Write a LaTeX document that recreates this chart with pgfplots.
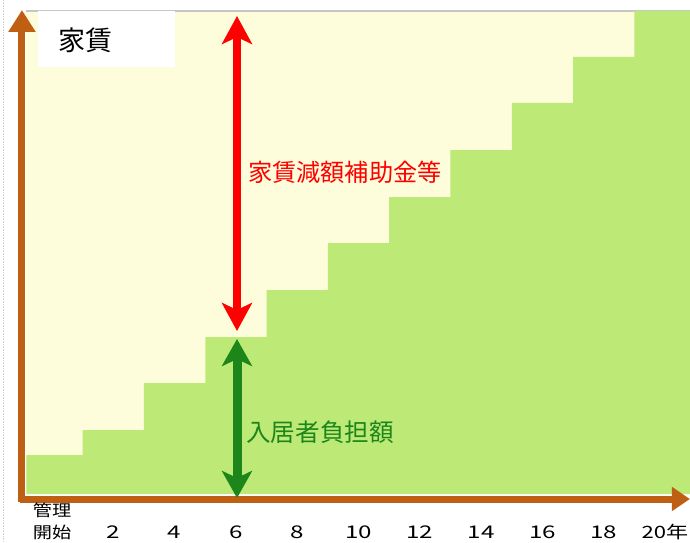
\documentclass[border=0pt]{standalone}
\usepackage{pgfplots}
\pgfplotsset{compat=1.18}
\usepackage{fontspec}
\setmainfont{Noto Sans CJK JP}
\usetikzlibrary{arrows.meta}
\definecolor{cream}{HTML}{FEFDDB}
\definecolor{lgreen}{HTML}{BDE977}
\definecolor{dgreen}{HTML}{1C861A}
\definecolor{brown}{HTML}{BF5F14}
\tikzset{num/.style={inner sep=0, xscale=1.38, font=\fontsize{17.5}{19}\selectfont}}
\begin{document}
\begin{tikzpicture}
\begin{axis}[scale only axis, width=690pt, height=542pt,
  xmin=-1.6966, xmax=20.8157, ymin=-45, ymax=497,
  axis lines=none, ticks=none, clip=false]
\coordinate (bl) at (rel axis cs:0,0);
\coordinate (tr) at (rel axis cs:1,1);
% background
\fill[cream] (axis cs:-0.84,3) rectangle (axis cs:20.82,486);
\draw[gray!45, line width=1.5pt] (axis cs:-0.84,486) -- (axis cs:20.82,486);
\draw[gray!35, densely dotted, line width=0.6pt] (axis cs:-1.6,497) -- (axis cs:-1.6,-45);
% tenant share (steps)
\addplot[const plot, fill=lgreen, draw=none] coordinates {
  (-0.84,3) (-0.84,42) (1,67) (3,114) (5,160) (7,207) (9,254)
  (11,300) (13,347) (15,394) (17,440) (19,486) (20.82,486) (20.82,3)} -- cycle;
% title box
\fill[white] (axis cs:-0.46,486) rectangle (axis cs:4.01,430);
\node[font=\fontsize{27}{30}\selectfont, inner sep=0] at (axis cs:1.1,457) {家賃};
% axes
\draw[brown, line width=7pt, -{Triangle[length=22pt,width=26pt]}] (axis cs:-0.98,-5) -- (axis cs:-0.98,487);
\draw[brown, line width=7pt, -{Triangle[length=18pt,width=23pt]}] (axis cs:-1.05,-2) -- (axis cs:20.815,-2);
% arrows
\draw[red, line width=8pt, {Stealth[length=28pt,width=30pt,inset=7pt]}-{Stealth[length=28pt,width=30pt,inset=7pt]}] (axis cs:6.036,481) -- (axis cs:6.036,166);
\draw[dgreen, line width=9pt, {Stealth[length=27pt,width=30pt,inset=7pt]}-{Stealth[length=27pt,width=30pt,inset=7pt]}] (axis cs:6.036,158) -- (axis cs:6.036,-1);
\node[red, anchor=west, inner sep=0, font=\fontsize{24.2}{27}\selectfont] at (axis cs:6.39,325) {家賃減額補助金等};
\node[dgreen, anchor=west, inner sep=0, font=\fontsize{24.6}{27}\selectfont] at (axis cs:6.33,65) {入居者負担額};
% tick labels
\node[inner sep=0, xscale=1.2, font=\fontsize{16}{18}\selectfont] at (axis cs:0,-13) {管理};
\node[inner sep=0, xscale=1.2, font=\fontsize{16}{18}\selectfont] at (axis cs:0,-35) {開始};
\node[num] at (axis cs:2,-35) {2};
\node[num] at (axis cs:4,-35) {4};
\node[num] at (axis cs:6,-35) {6};
\node[num] at (axis cs:8,-35) {8};
\node[num] at (axis cs:10,-35) {10};
\node[num] at (axis cs:12,-35) {12};
\node[num] at (axis cs:14,-35) {14};
\node[num] at (axis cs:16,-35) {16};
\node[num] at (axis cs:18,-35) {18};
\node[inner sep=0, xscale=1.3, font=\fontsize{17}{19}\selectfont] at (axis cs:20,-35) {20年};
\end{axis}
\pgfresetboundingbox
\useasboundingbox (bl) rectangle (tr);
\end{tikzpicture}
\end{document}
